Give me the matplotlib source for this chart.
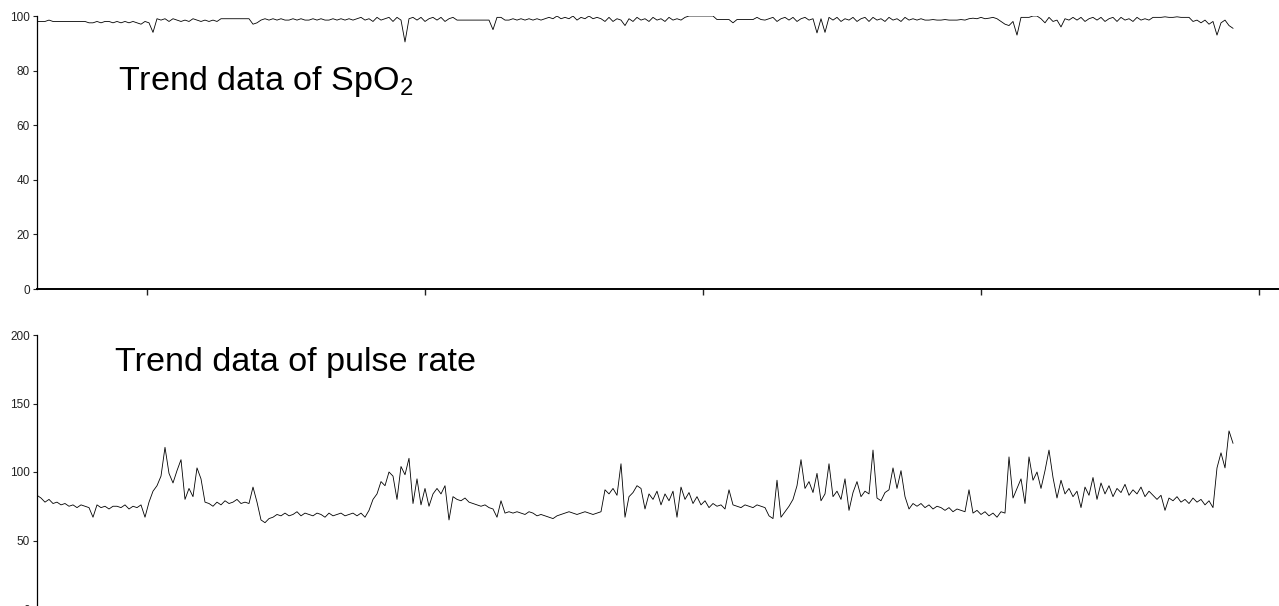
import numpy as np
import matplotlib
matplotlib.use('Agg')
import matplotlib.pyplot as plt

plt.rcParams['font.family'] = ['Liberation Sans', 'DejaVu Sans']
plt.rcParams['mathtext.default'] = 'regular'

# SpO2 趋势数据（每个采样点）
spo2 = [
    98, 98, 98, 98.5, 98, 98, 98, 98, 98, 98, 98, 98, 98, 97.5, 97.5, 98, 97.5, 98, 98, 97.5,
    98, 97.5, 98, 97.5, 98, 97.5, 97, 98, 97.5, 94, 99, 98.5, 99, 98, 99, 98.5, 98, 98.5, 98, 99,
    98.5, 98, 98.5, 98, 98.5, 98, 99, 99, 99, 99, 99, 99, 99, 99, 97, 97.5, 98.5, 99, 98.5, 99,
    98.5, 99, 98.5, 98.5, 99, 98.5, 99, 98.5, 98.5, 99, 98.5, 99, 98.5, 98.5, 99, 98.5, 99, 98.5, 99, 98.5,
    99, 99.5, 98.5, 99, 98, 99.5, 98.5, 99, 99.5, 98, 99.5, 98.5, 90.5, 99, 99.5, 98.5, 99.5, 98, 99, 99.5,
    98.5, 99.5, 98, 99, 99.5, 98.5, 98.5, 98.5, 98.5, 98.5, 98.5, 98.5, 98.5, 98.5, 95, 99.5, 99.5, 98.5, 98.5, 99,
    98.5, 99, 98.5, 99, 98.5, 99, 98.5, 99, 99.5, 99, 100, 99, 99.5, 99, 100, 98.5, 99.5, 99, 100, 99,
    99.5, 99, 98, 99.5, 98, 99, 98.5, 96.5, 99, 98, 99.5, 98.5, 99, 98, 99.5, 98.5, 99, 98, 99.5, 98.5,
    99, 98.5, 99.5, 100, 100, 100, 100, 100, 100, 100, 98.7, 98.7, 98.7, 98.7, 97.5, 98.7, 98.7, 98.7, 98.7, 98.7,
    99.5, 98.7, 98.5, 99, 99.5, 98, 99, 99.5, 98.5, 99.5, 98, 99, 99.5, 98.5, 99, 93.8, 99, 94, 99.5, 98.5,
    99.5, 98, 99, 98.5, 99.5, 98, 99, 99.5, 98, 99.5, 98.5, 99, 98, 99.5, 98.5, 99, 98, 99.5, 98.5, 99,
    98.5, 99, 98.5, 98.5, 98.7, 98.5, 98.5, 98.7, 98.5, 98.5, 98.5, 98.7, 98.5, 99, 99.2, 99, 99.5, 99, 99.2, 99.5,
    99, 98, 97, 96.5, 98, 93, 99.5, 99.5, 99.5, 100, 100, 99, 97.5, 99.5, 98, 98.5, 96, 99, 98.5, 99.5,
    98.5, 99.5, 98, 99, 99.5, 98.5, 99.5, 98, 99, 99.5, 98, 99.5, 98.5, 99, 98, 99.5, 98.5, 99, 98.5, 99.5,
    99.5, 99.5, 99.7, 99.5, 99.5, 99.7, 99.5, 99.5, 99.5, 98, 98.5, 97.5, 98.5, 97, 98, 93, 97.5, 98.5, 96.5, 95.5,
]

# 脉率趋势数据
pulse = [
    83, 81, 78, 80, 77, 78, 76, 77, 75, 76, 74, 76, 75, 74, 67, 76, 74, 75, 73, 75,
    75, 74, 76, 73, 75, 74, 76, 67, 78, 86, 90, 97, 118, 99, 92, 101, 109, 80, 88, 82,
    103, 95, 78, 77, 75, 78, 76, 79, 77, 78, 80, 77, 78, 77, 89, 78, 65, 63, 66, 67,
    69, 68, 70, 68, 69, 71, 68, 70, 69, 68, 70, 69, 67, 70, 68, 69, 70, 68, 69, 70,
    68, 70, 67, 72, 80, 84, 93, 90, 100, 97, 80, 104, 98, 110, 77, 95, 76, 88, 75, 84,
    88, 84, 90, 65, 82, 80, 79, 81, 78, 77, 76, 75, 76, 74, 73, 67, 79, 70, 71, 70,
    71, 70, 69, 71, 70, 68, 69, 68, 67, 66, 68, 69, 70, 71, 70, 69, 70, 71, 70, 69,
    70, 71, 87, 84, 88, 83, 106, 67, 82, 85, 90, 88, 73, 84, 80, 86, 76, 84, 79, 86,
    67, 89, 80, 85, 77, 82, 76, 79, 74, 77, 75, 76, 73, 87, 76, 75, 74, 76, 75, 74,
    76, 75, 74, 68, 66, 94, 67, 71, 75, 80, 90, 109, 88, 93, 85, 99, 79, 84, 106, 82,
    86, 80, 95, 72, 85, 93, 82, 86, 84, 116, 81, 79, 85, 87, 103, 88, 101, 82, 73, 77,
    75, 77, 74, 76, 73, 75, 74, 72, 74, 71, 73, 72, 71, 87, 70, 72, 69, 71, 68, 70,
    67, 71, 70, 111, 81, 88, 95, 77, 111, 94, 100, 88, 101, 116, 96, 81, 94, 84, 88, 82,
    86, 74, 89, 83, 96, 80, 92, 84, 90, 82, 88, 85, 91, 83, 87, 84, 89, 82, 86, 83,
    80, 83, 72, 81, 79, 82, 78, 80, 77, 81, 78, 80, 76, 79, 74, 103, 114, 103, 130, 121,
]

t = np.arange(len(spo2))
x_ticks = [27.5, 97, 166.5, 236, 305.5]

fig = plt.figure(figsize=(12.79, 6.06), dpi=100)

# 上图：SpO2
ax1 = fig.add_axes([37 / 1279, 317 / 606, 1242 / 1279, 273 / 606])
ax1.plot(t, spo2, color='black', linewidth=0.6)
ax1.set_xlim(0, 310.5)
ax1.set_ylim(0, 100)
ax1.set_yticks([0, 20, 40, 60, 80, 100])
ax1.set_xticks(x_ticks)
ax1.set_xticklabels([])
ax1.tick_params(axis='y', labelsize=8.5, length=3, width=0.8, colors='#222222', pad=2)
ax1.tick_params(axis='x', length=4, width=1.0, colors='#222222')
for side in ['top', 'right']:
    ax1.spines[side].set_visible(False)
ax1.spines['left'].set_linewidth(0.9)
ax1.spines['bottom'].set_linewidth(1.4)

# 下图：脉率
t2 = np.arange(len(pulse))
ax2 = fig.add_axes([37 / 1279, -3 / 606, 1242 / 1279, 274 / 606])
ax2.plot(t2, pulse, color='black', linewidth=0.6)
ax2.set_xlim(0, 310.5)
ax2.set_ylim(0, 200)
ax2.set_yticks([0, 50, 100, 150, 200])
ax2.set_xticks([])
ax2.tick_params(axis='y', labelsize=8.5, length=3, width=0.8, colors='#222222', pad=2)
for side in ['top', 'right', 'bottom']:
    ax2.spines[side].set_visible(False)
ax2.spines['left'].set_linewidth(0.9)

fig.text(118 / 1279, 1 - 90 / 606, 'Trend data of SpO$_2$', fontsize=24.6, va='baseline', ha='left')
fig.text(115 / 1279, 1 - 371 / 606, 'Trend data of pulse rate', fontsize=24.6, va='baseline', ha='left')

plt.savefig('out.png', dpi=100)
plt.close()
